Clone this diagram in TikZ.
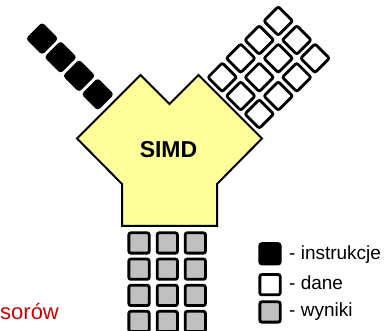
\documentclass[tikz,border=0pt]{standalone}
\usepackage{fontspec}
\setmainfont{Liberation Sans}

\definecolor{simdyellow}{RGB}{255,255,153}
\definecolor{wynikgray}{RGB}{192,192,192}
\definecolor{titlered}{RGB}{210,0,0}

\begin{document}
\begin{tikzpicture}[x=1pt, y=-1pt,
box/.style={draw, line width=2.8pt, rounded corners=2pt, minimum size=20.3pt, inner sep=0pt},
instr/.style={box, fill=black, rotate=45},
dane/.style={box, fill=white, rotate=45},
wynik/.style={box, fill=wynikgray},
legend/.style={anchor=base west, inner sep=0pt, font={\fontsize{19}{22}\selectfont}}]
\useasboundingbox (0,0) rectangle (389,331);
%================================================================
%	Processor
\draw[line width=2pt, fill=simdyellow] (77,138.5) -- (140.5,75) -- (169.5,104) -- (198.5,75) -- (262,138.5) -- (217,184) -- (217,226) -- (122,226) -- (122,184) -- cycle;
\node[font={\fontsize{23}{27}\selectfont\bfseries}] (simd) at (168.5,150) {SIMD};

%================================================================
%	Nodes
\node[style=instr] (i1) at (97.7,94.3) {};
\node[style=instr] (i2) at (79.1,75.8) {};
\node[style=instr] (i3) at (60.6,57.2) {};
\node[style=instr] (i4) at (42.1,38.6) {};
%----------------------------------------------------------------
\node[style=dane] (d1) at (222.3,77.3) {};
\node[style=dane] (d2) at (240.7,96) {};
\node[style=dane] (d3) at (259.3,114) {};
\node[style=dane] (d4) at (240.7,58.3) {};
\node[style=dane] (d5) at (259.3,77.3) {};
\node[style=dane] (d6) at (278.3,96) {};
\node[style=dane] (d7) at (259.3,40) {};
\node[style=dane] (d8) at (278.3,58.3) {};
\node[style=dane] (d9) at (296.7,77.3) {};
\node[style=dane] (d10) at (278.3,21) {};
\node[style=dane] (d11) at (296.7,40) {};
\node[style=dane] (d12) at (315,58.3) {};
%----------------------------------------------------------------
\node[style=wynik] (w1) at (139,243) {};
\node[style=wynik] (w2) at (167.3,243) {};
\node[style=wynik] (w3) at (195.3,243) {};
\node[style=wynik] (w4) at (139,269.2) {};
\node[style=wynik] (w5) at (167.3,269.2) {};
\node[style=wynik] (w6) at (195.3,269.2) {};
\node[style=wynik] (w7) at (139,295.4) {};
\node[style=wynik] (w8) at (167.3,295.4) {};
\node[style=wynik] (w9) at (195.3,295.4) {};
\node[style=wynik] (w10) at (139,321.5) {};
\node[style=wynik] (w11) at (167.3,321.5) {};
\node[style=wynik] (w12) at (195.3,321.5) {};

%================================================================
%	Legend
\node[box, fill=black] (li) at (270,253.8) {};
\node[box, fill=white] (ld) at (270,284.7) {};
\node[box, fill=wynikgray] (lw) at (270,312) {};
%----------------------------------------------------------------
\node[style=legend] (ti) at (289,260) {- instrukcje};
\node[style=legend] (td) at (289,290) {- dane};
\node[style=legend] (tw) at (289,316.7) {- wyniki};

%================================================================
%	Title
\node[anchor=base west, inner sep=0pt, text=titlered, font={\fontsize{22}{25}\selectfont}] (title) at (0,319.3) {sorów};
%================================================================
\end{tikzpicture}
\end{document}
